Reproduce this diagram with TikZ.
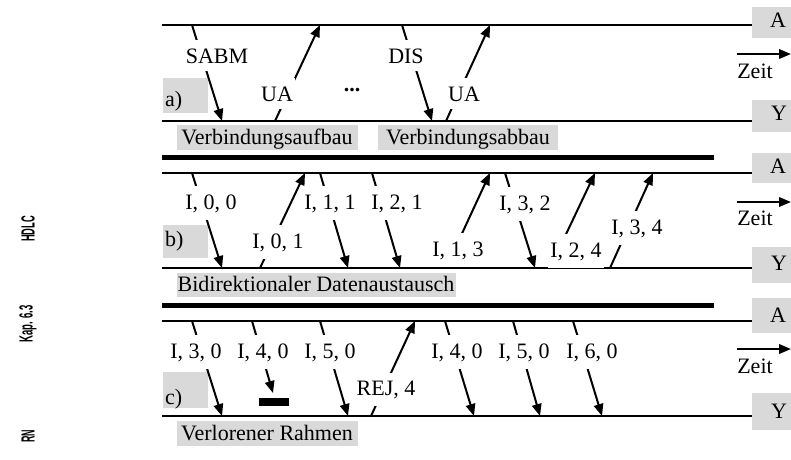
\documentclass[tikz,border=0pt]{standalone}
\usepackage{fontspec}
\setmainfont{Liberation Serif}
\newfontfamily\sidefont{Liberation Sans}
\usetikzlibrary{arrows.meta}
\begin{document}
\begin{tikzpicture}[x=1pt,y=-1pt,
  tl/.style={line width=2pt},
  bar/.style={line width=5pt},
  msg/.style={line width=2pt,-{Triangle[length=12pt,width=9.5pt]}},
  lbl/.style={fill=white,inner xsep=2pt,inner ysep=8pt,anchor=base,font=\fontsize{22}{24}\selectfont},
  txt/.style={anchor=base,inner sep=0pt,font=\fontsize{22}{24}\selectfont},
  lefttxt/.style={anchor=base west,inner sep=0pt,font=\fontsize{22}{24}\selectfont},
  gbox/.style={fill=black!15},
  side/.style={rotate=90,inner sep=0pt,font=\sidefont\bfseries\fontsize{19}{20}\selectfont}
]
\useasboundingbox (0,0) rectangle (791,459);

% ---------- side labels ----------
\node[side] (hdlc) at (28,229) {\scalebox{0.49}[1]{HDLC}};
\node[side] (kap) at (28,324) {\scalebox{0.5}[1]{Kap. 6.3}};
\node[side] (rn) at (28,436) {\scalebox{0.47}[1]{RN}};

% ---------- gray boxes ----------
\fill[gbox] (752,7) rectangle (791,38);
\fill[gbox] (752,100) rectangle (791,132);
\fill[gbox] (752,153) rectangle (791,183);
\fill[gbox] (752,247) rectangle (791,283);
\fill[gbox] (752,298) rectangle (791,333);
\fill[gbox] (752,393) rectangle (791,430);
\fill[gbox] (163,78) rectangle (208,113);
\fill[gbox] (163,225) rectangle (208,258);
\fill[gbox] (163,372) rectangle (208,408);
\fill[gbox] (177,125) rectangle (358,150);
\fill[gbox] (378,125) rectangle (558,150);
\fill[gbox] (177,273) rectangle (456,297);
\fill[gbox] (177,421) rectangle (358,446);

% ---------- station labels ----------
\node[txt] (aA) at (778,27) {A};
\node[txt] (aY) at (779,120) {Y};
\node[txt] (bA) at (778,173) {A};
\node[txt] (bY) at (779,270) {Y};
\node[txt] (cA) at (778,322) {A};
\node[txt] (cY) at (779,418) {Y};
\node[txt] (az) at (755,78) {Zeit};
\node[txt] (bz) at (755,225) {Zeit};
\node[txt] (cz) at (755,373) {Zeit};
\node[lefttxt] (la) at (165,106) {a)};
\node[lefttxt] (lb) at (165,246) {b)};
\node[lefttxt] (lc) at (165,404) {c)};
\node[txt] (va) at (267,144) {Verbindungsaufbau};
\node[txt] (vab) at (468,144) {Verbindungsabbau};
\node[txt] (bd) at (316,291) {Bidirektionaler Datenaustausch};
\node[txt] (vr) at (267,440) {Verlorener Rahmen};

% ---------- time lines ----------
\coordinate (a1) at (162,25);  \coordinate (a2) at (752,25);
\coordinate (y1) at (162,121); \coordinate (y2) at (752,121);
\coordinate (b1) at (162,173); \coordinate (b2) at (752,173);
\coordinate (z1) at (162,268); \coordinate (z2) at (752,268);
\coordinate (c1) at (162,321); \coordinate (c2) at (752,321);
\coordinate (w1) at (162,416); \coordinate (w2) at (752,416);
\draw[tl] (a1) -- (a2);
\draw[tl] (y1) -- (y2);
\draw[tl] (b1) -- (b2);
\draw[tl] (z1) -- (z2);
\draw[tl] (c1) -- (c2);
\draw[tl] (w1) -- (w2);
\coordinate (bar1s) at (162,157); \coordinate (bar1e) at (714,157);
\coordinate (bar2s) at (162,305); \coordinate (bar2e) at (714,305);
\draw[bar] (bar1s) -- (bar1e);
\draw[bar] (bar2s) -- (bar2e);

% time arrows
\coordinate (ta1) at (737,54);  \coordinate (ta2) at (791,54);
\coordinate (tb1) at (737,202); \coordinate (tb2) at (791,202);
\coordinate (tc1) at (737,349); \coordinate (tc2) at (791,349);
\draw[msg] (ta1) -- (ta2);
\draw[msg] (tb1) -- (tb2);
\draw[msg] (tc1) -- (tc2);

% ---------- a) ----------
\coordinate (sabm1) at (192,25);  \coordinate (sabm2) at (222,121);
\coordinate (ua1) at (275,121);   \coordinate (ua2) at (320,25);
\coordinate (dis1) at (402,25);   \coordinate (dis2) at (432,121);
\coordinate (ub1) at (446,121);   \coordinate (ub2) at (490,25);
\draw[msg] (sabm1) -- (sabm2);
\draw[msg] (ua1) -- (ua2);
\draw[msg] (dis1) -- (dis2);
\draw[msg] (ub1) -- (ub2);
\node[lbl] (tsabm) at (217,63) {SABM};
\node[lbl] (tua) at (277,101) {UA};
\node[lbl] (tdis) at (406,63) {DIS};
\node[lbl] (tub) at (464,101) {UA};
\node[txt] (dots) at (352,91) {\textbf{...}};

% ---------- b) ----------
\coordinate (p1) at (192,173); \coordinate (p2) at (222,268);
\coordinate (q1) at (260,268); \coordinate (q2) at (305,173);
\coordinate (r1) at (320,173); \coordinate (r2) at (348,268);
\coordinate (s1) at (372,173); \coordinate (s2) at (400,268);
\coordinate (t1) at (446,268); \coordinate (t2) at (490,173);
\coordinate (u1) at (505,173); \coordinate (u2) at (535,268);
\coordinate (v1) at (550,268); \coordinate (v2) at (595,173);
\coordinate (w3) at (610,268); \coordinate (w4) at (653,173);
\draw[msg] (p1) -- (p2);
\draw[msg] (q1) -- (q2);
\draw[msg] (r1) -- (r2);
\draw[msg] (s1) -- (s2);
\draw[msg] (t1) -- (t2);
\draw[msg] (u1) -- (u2);
\draw[msg] (v1) -- (v2);
\draw[msg] (w3) -- (w4);
\node[lbl] (l000) at (211,209) {I, 0, 0};
\node[lbl] (l001) at (278,248) {I, 0, 1};
\node[lbl] (l011) at (330,209) {I, 1, 1};
\node[lbl] (l021) at (397,209) {I, 2, 1};
\node[lbl] (l013) at (458,256) {I, 1, 3};
\node[lbl] (l032) at (525,210) {I, 3, 2};
\node[lbl] (l024) at (576,257) {I, 2, 4};
\node[lbl] (l034) at (637,234) {I, 3, 4};

% ---------- c) ----------
\coordinate (e1) at (192,321); \coordinate (e2) at (222,416);
\coordinate (f1) at (252,321); \coordinate (f2) at (273,393);
\coordinate (g1) at (320,321); \coordinate (g2) at (348,416);
\coordinate (h1) at (371,416); \coordinate (h2) at (415,321);
\coordinate (i1) at (445,321); \coordinate (i2) at (474,416);
\coordinate (j1) at (513,321); \coordinate (j2) at (540,416);
\coordinate (k1) at (573,321); \coordinate (k2) at (602,416);
\draw[msg] (e1) -- (e2);
\draw[msg] (f1) -- (f2);
\draw[msg] (g1) -- (g2);
\draw[msg] (h1) -- (h2);
\draw[msg] (i1) -- (i2);
\draw[msg] (j1) -- (j2);
\draw[msg] (k1) -- (k2);
\fill (259,398) rectangle (289,406);
\node[lbl] (m30) at (196,358) {I, 3, 0};
\node[lbl] (m40) at (263,358) {I, 4, 0};
\node[lbl] (m50) at (330,358) {I, 5, 0};
\node[lbl] (mrej) at (386,395) {REJ, 4};
\node[lbl] (m40b) at (457,358) {I, 4, 0};
\node[lbl] (m50b) at (524,358) {I, 5, 0};
\node[lbl] (m60) at (592,358) {I, 6, 0};
\end{tikzpicture}
\end{document}
